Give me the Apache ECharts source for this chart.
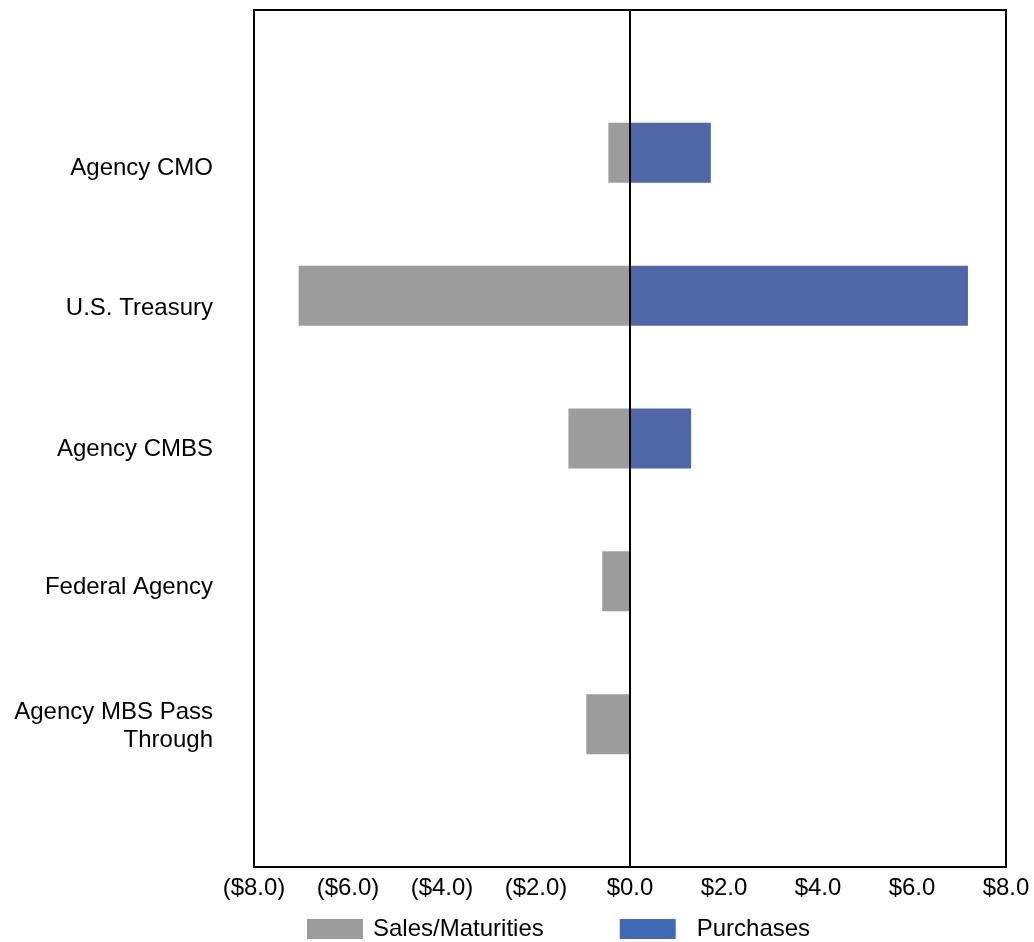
<!DOCTYPE html>
<html>
<head>
<meta charset="utf-8">
<script src="https://cdn.jsdelivr.net/npm/echarts@6/dist/echarts.min.js"></script>
<style>
  html, body { margin: 0; padding: 0; background: #fff; }
  #chart { width: 1034px; height: 942px; }
</style>
</head>
<body>
<div id="chart"></div>
<script>
// Securities activity by type ($ billions), bottom to top
const categories = ['Agency MBS Pass\nThrough', 'Federal Agency', 'Agency CMBS', 'U.S. Treasury', 'Agency CMO'];
const salesMaturities = [-0.93, -0.59, -1.31, -7.05, -0.46];
const purchases = [0, 0, 1.30, 7.19, 1.72];
const xTicks = [-8, -6, -4, -2, 0, 2, 4, 6, 8];

// Empty slots above and below so the bars sit between the frame edges
const yCats = [''].concat(categories, ['']);
const pad = arr => ['-'].concat(arr.map(v => (v === 0 ? '-' : v)), ['-']);

// Downward nudge (px) for each axis slot label, bottom to top (padding slots included)
const labelNudge = [0, 2, 6, 11, 13, 16, 0];

const fmt = v => {
  const s = '$' + Math.abs(v).toFixed(1);
  return v < 0 ? '(' + s + ')' : s;
};

const rich = {};
labelNudge.forEach(n => {
  rich['n' + n] = { fontSize: 24, color: '#000', padding: [2 * n, 0, 0, 0], lineHeight: 28 };
});

const chart = echarts.init(document.getElementById('chart'));
chart.setOption({
  animation: false,
  textStyle: { fontFamily: 'Liberation Sans, Arial, sans-serif' },
  grid: {
    left: 254, right: 28, top: 10, bottom: 75,
    show: true, borderColor: '#000', borderWidth: 2, backgroundColor: '#fff'
  },
  xAxis: {
    type: 'value',
    min: xTicks[0], max: xTicks[xTicks.length - 1], interval: 2,
    axisLine: { show: false },
    axisTick: { show: false },
    splitLine: { show: false },
    axisLabel: {
      color: '#000', fontSize: 24, margin: 9,
      formatter: fmt
    }
  },
  yAxis: {
    type: 'category',
    data: yCats,
    boundaryGap: false,
    axisLine: { show: false },
    axisTick: { show: false },
    splitLine: { show: false },
    axisLabel: {
      color: '#000', fontSize: 24, margin: 41, lineHeight: 28, align: 'right',
      formatter: (value, idx) => {
        if (!value) return '';
        const key = 'n' + labelNudge[idx];
        return value.split('\n').map(line => '{' + key + '|' + line + '}').join('\n');
      },
      rich: rich
    }
  },
  legend: {
    top: 917,
    left: 307,
    padding: 0,
    icon: 'rect',
    itemWidth: 56, itemHeight: 20, itemGap: 76,
    textStyle: { color: '#000', fontSize: 24 },
    data: [
      { name: 'Sales/Maturities', itemStyle: { color: '#9c9c9c' },
        textStyle: { padding: [0, 0, 0, 5] } },
      { name: 'Purchases', itemStyle: { color: '#3f6ab6' },
        textStyle: { padding: [0, 0, 0, 16] } }
    ]
  },
  series: [
    {
      name: 'Sales/Maturities',
      type: 'bar',
      data: pad(salesMaturities),
      barWidth: 60,
      barGap: '-100%',
      itemStyle: { color: '#9c9c9c' }
    },
    {
      name: 'Purchases',
      type: 'bar',
      data: pad(purchases),
      barWidth: 60,
      barGap: '-100%',
      itemStyle: { color: '#4f67a6' },
      markLine: {
        silent: true,
        symbol: 'none',
        label: { show: false },
        lineStyle: { color: '#000', width: 2, type: 'solid' },
        data: [{ xAxis: 0 }]
      }
    }
  ]
});
</script>
</body>
</html>
